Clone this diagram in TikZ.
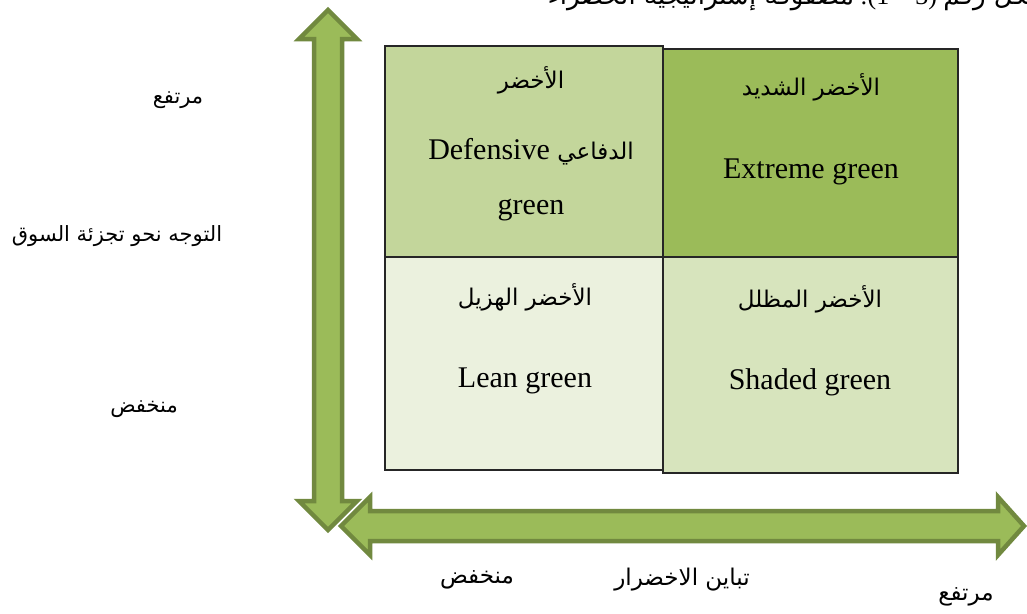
\documentclass[tikz,border=0pt]{standalone}
\usepackage{fontspec}
\setmainfont{Liberation Serif}
\newfontfamily\arabicfont[Script=Arabic]{DejaVu Sans}
\TeXXeTstate=1
\newcommand\artext[1]{{\arabicfont\beginR #1\endR}}

\definecolor{arrowfill}{HTML}{9BBB59}
\definecolor{arrowedge}{HTML}{71893F}
\definecolor{cellA}{HTML}{C3D69B}
\definecolor{cellB}{HTML}{9BBB59}
\definecolor{cellC}{HTML}{EBF1DE}
\definecolor{cellD}{HTML}{D7E4BD}

\tikzset{
  bigarrow/.style={fill=arrowfill, draw=arrowedge, line width=4.5pt, line join=miter},
  cell/.style={draw=black!85, line width=1.3pt},
  entxt/.style={font=\fontsize{30}{33}\selectfont, inner sep=0pt},
  artxt/.style={font=\fontsize{23}{28}\selectfont, inner sep=0pt},
  axtxt/.style={font=\fontsize{21}{26}\selectfont, inner sep=0pt},
  axbtxt/.style={font=\fontsize{23}{28}\selectfont, inner sep=0pt},
}

\begin{document}
\begin{tikzpicture}[x=1pt, y=-1pt]
  \clip (0,0) rectangle (1027,613);
  \fill[white] (0,0) rectangle (1027,613);

  % caption line, cut off by the top edge
  \node[anchor=base east, inner sep=0pt, font=\fontsize{26}{30}\selectfont] (title) at (1050,5)
    {\artext{مصفوفة إستراتيجية الخضراء} :(1 -- 3) \artext{شكل رقم}};

  % vertical double arrow
  \path[bigarrow]
    (328,10) -- (357,39) -- (342,39) -- (342,501) -- (357,501) -- (328,530)
    -- (299,501) -- (314,501) -- (314,39) -- (299,39) -- cycle;

  % horizontal double arrow
  \path[bigarrow]
    (341,526) -- (370,497) -- (370,511) -- (998,511) -- (998,497) -- (1024,526)
    -- (998,555) -- (998,541) -- (370,541) -- (370,555) -- cycle;

  % matrix cells
  \path[cell, fill=cellA] (385,46) rectangle (663,257);
  \path[cell, fill=cellB] (663,49) rectangle (958,257);
  \path[cell, fill=cellC] (385,257) rectangle (663,470);
  \path[cell, fill=cellD] (663,257) rectangle (958,473);

  % cell texts
  \node[artxt] (tlar) at (531,80) {\artext{الأخضر}};
  \node[entxt] (tlen) at (531,152) {Defensive \artext{\fontsize{23}{28}\selectfont الدفاعي}};
  \node[entxt] (tlen2) at (531,210) {green};

  \node[artxt] (trar) at (811,87) {\artext{الأخضر الشديد}};
  \node[entxt] (tren) at (811,172) {Extreme green};

  \node[artxt] (blar) at (525,297) {\artext{الأخضر الهزيل}};
  \node[entxt] (blen) at (525,381) {Lean green};

  \node[artxt] (brar) at (810,299) {\artext{الأخضر المظلل}};
  \node[entxt] (bren) at (810,382) {Shaded green};

  % vertical axis labels
  \node[axtxt] (vhigh) at (178,100) {\artext{مرتفع}};
  \node[axtxt] (vname) at (117,236) {\artext{التوجه نحو تجزئة السوق}};
  \node[axtxt] (vlow) at (144,409) {\artext{منخفض}};

  % horizontal axis labels
  \node[axbtxt] (hlow) at (477,580) {\artext{منخفض}};
  \node[axbtxt] (hname) at (682,580) {\artext{تباين الاخضرار}};
  \node[axbtxt] (hhigh) at (966,597) {\artext{مرتفع}};
\end{tikzpicture}
\end{document}
